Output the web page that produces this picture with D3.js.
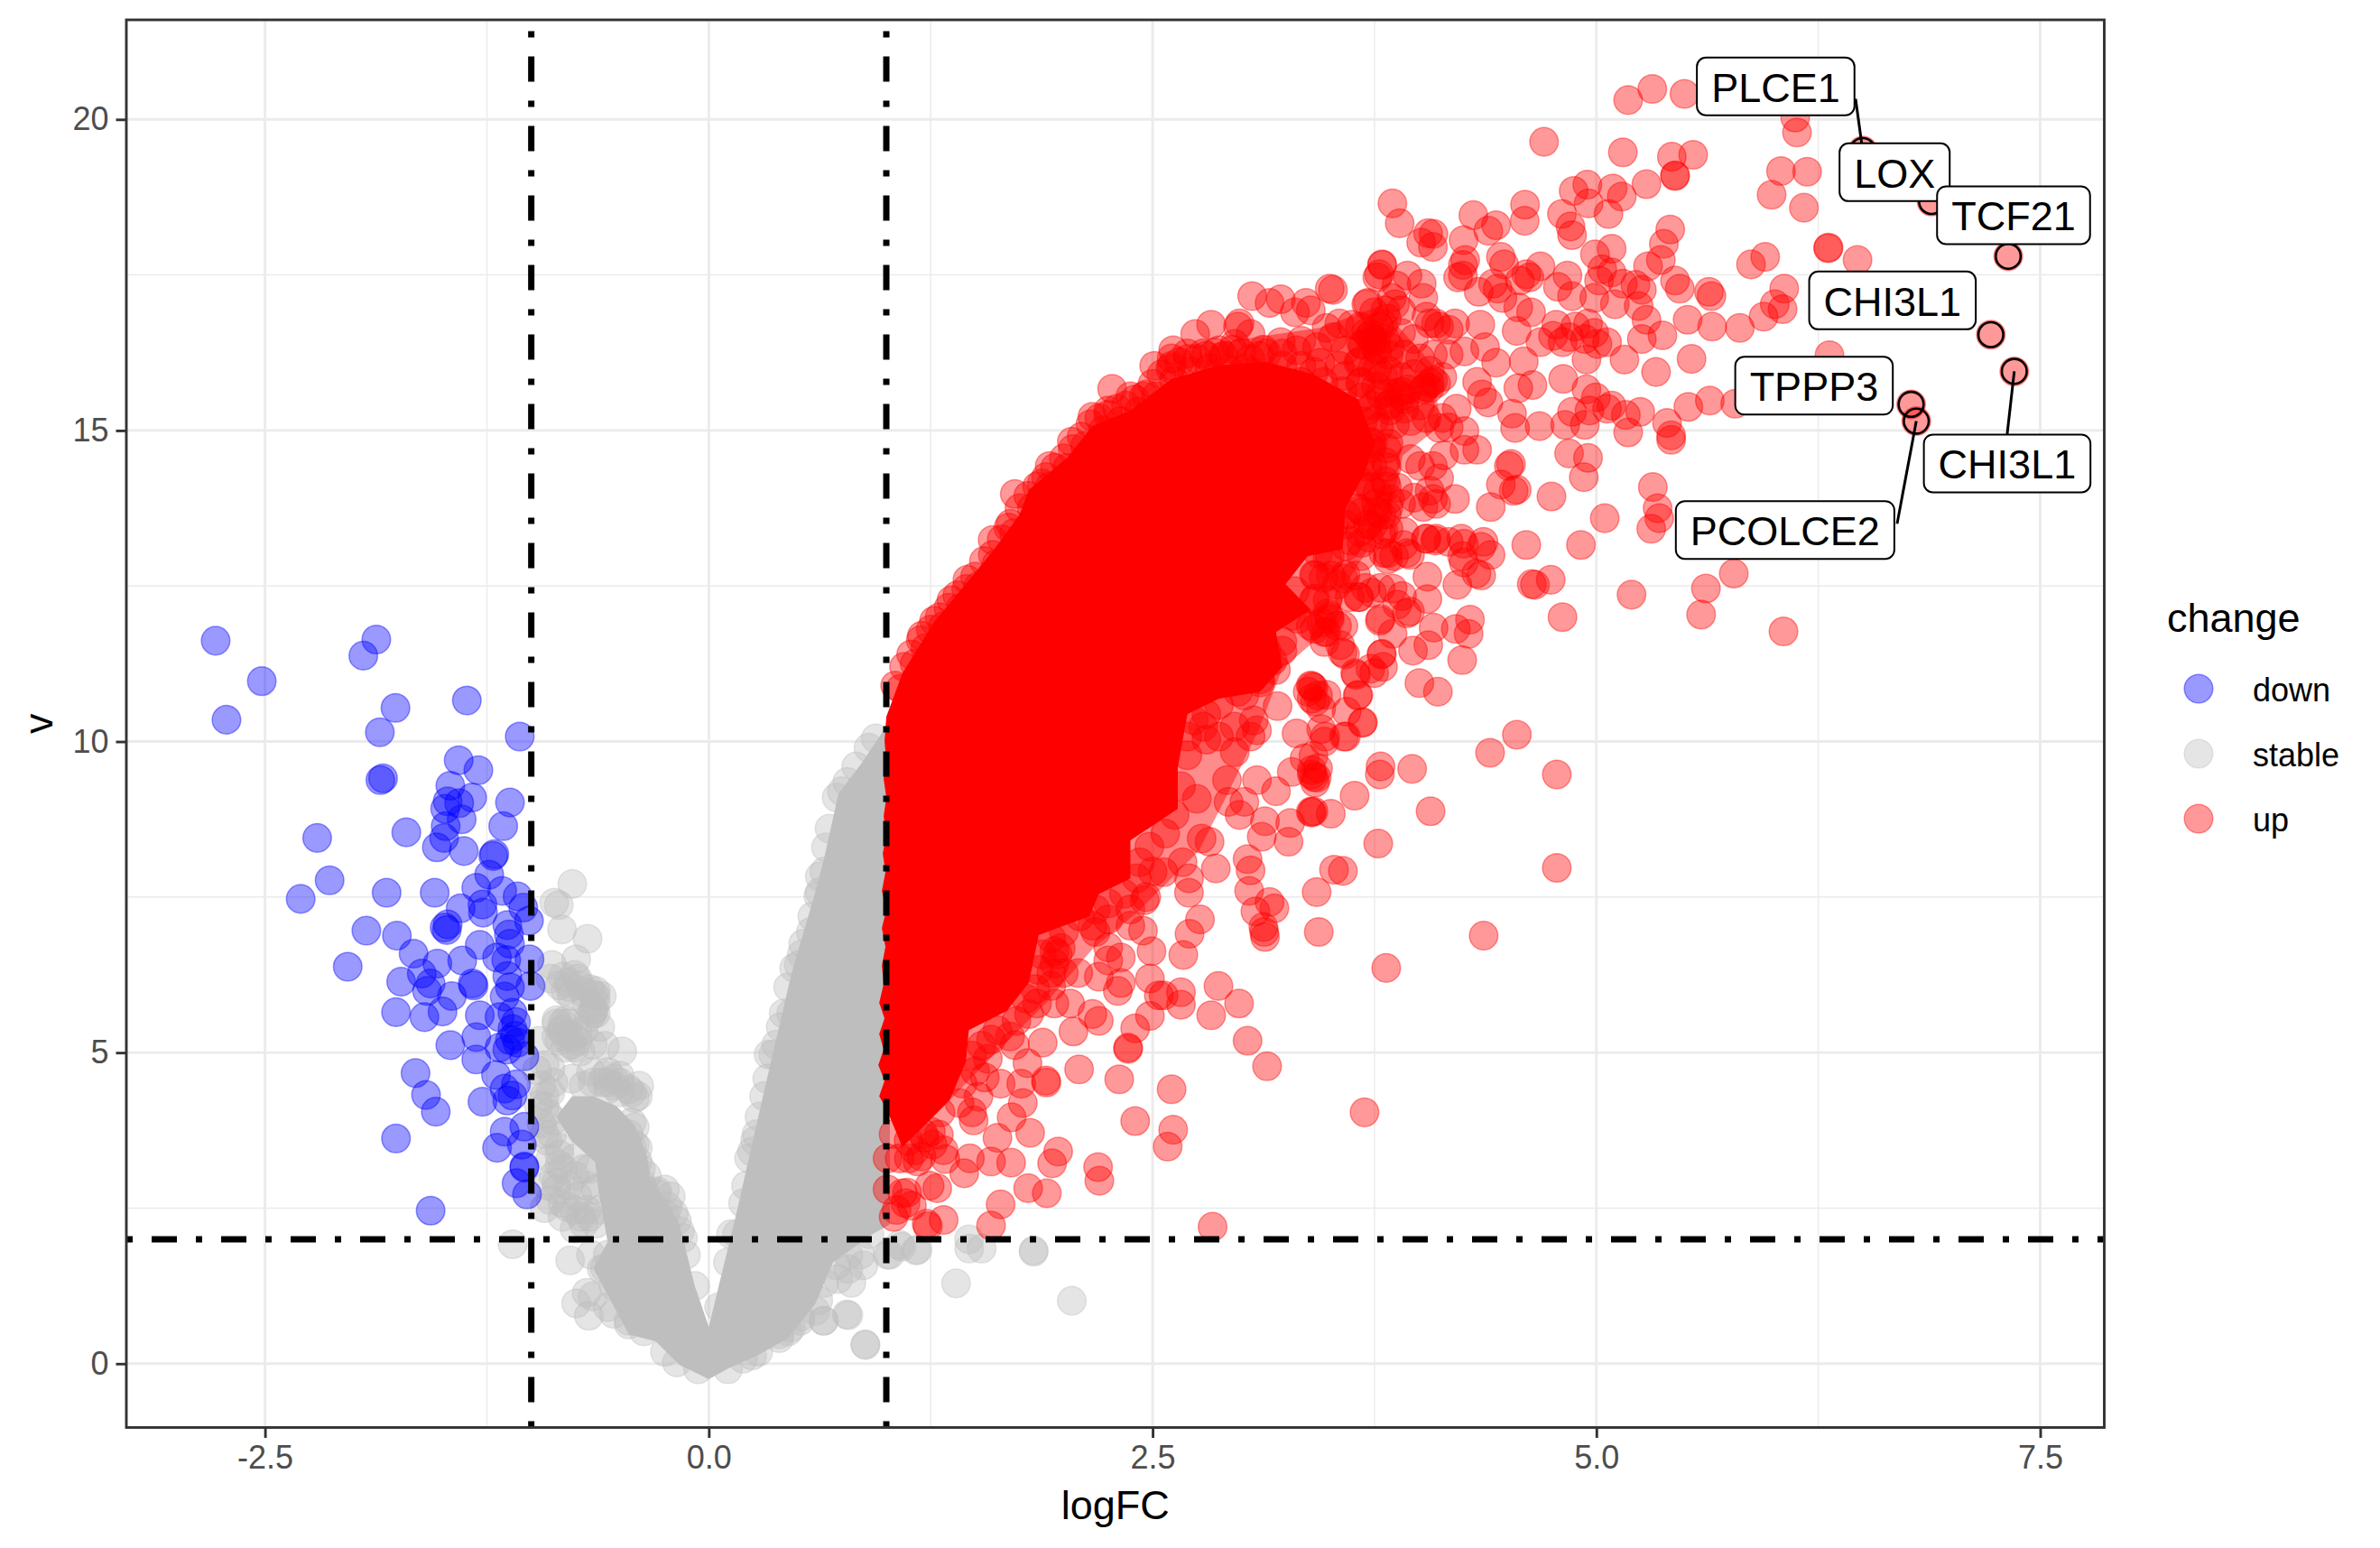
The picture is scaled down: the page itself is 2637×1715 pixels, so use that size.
<!DOCTYPE html>
<html>
<head>
    <meta charset="utf-8">
    <title>Volcano plot</title>
    <style type="text/css">
        html, body { margin: 0; padding: 0; background: #fff; }
        text { font-family: "Liberation Sans", Arial, sans-serif; }
    </style>
</head>
<body>
<div id="chart"></div>
<script src="https://cdnjs.cloudflare.com/ajax/libs/d3/7.8.5/d3.min.js"></script>
<script>

var xTicks = [-2.5, 0, 2.5, 5, 7.5];
var xMinor = [-1.25, 1.25, 3.75, 6.25];
var yTicks = [0, 5, 10, 15, 20];
var yMinor = [2.5, 7.5, 12.5, 17.5];
var vCuts = [-1, 1];
var hCuts = [2];
var changeLevels = ["down", "stable", "up"];
var changeColors = ["#0000ff", "#bebebe", "#ff0000"];

var downPoints = [[-2.778,11.62],[-2.518,10.97],[-2.717,10.35],[-1.873,11.64],[-1.946,11.38],[-1.765,10.54],[-1.853,10.15],[-1.363,10.66],[-1.065,10.08],
[-1.835,9.41],[-1.85,9.38],[-1.409,9.7],[-1.298,9.54],[-1.456,9.29],[-1.333,9.1],[-1.471,9.04],[-1.406,9.01],[-1.485,8.92],[-1.392,8.75],[-1.482,8.64],
[-1.491,8.45],[-1.532,8.3],[-1.38,8.24],[-1.12,9.02],[-1.158,8.64],[-1.704,8.54],[-2.206,8.45],[-2.136,7.77],[-2.299,7.47],[-1.815,7.57],[-1.544,7.57],
[-1.214,8.16],[-1.208,8.19],[-1.237,7.86],[-1.31,7.65],[-1.164,7.6],[-1.077,7.51],[-1.045,7.33],[-1.013,7.12],[-1.398,7.32],[-1.275,7.38],[-1.272,7.25],
[-1.471,7.06],[-1.488,7.01],[-1.476,6.97],[-1.929,6.96],[-1.757,6.88],[-1.135,7.05],[-1.126,6.9],[-1.12,6.75],[-1.29,6.73],[-2.034,6.38],[-1.663,6.59],
[-1.193,6.53],[-1.141,6.49],[-1.01,6.5],[-1.389,6.48],[-1.529,6.43],[-1.617,6.27],[-1.733,6.14],[-1.567,6.11],[-1.587,5.99],[-1.447,5.91],[-1.331,6.11],
[-1.325,6.08],[-1.135,6.23],[-1.004,6.07],[-1.15,5.9],[-1.12,6.05],[-1.762,5.65],[-1.602,5.57],[-1.5,5.66],[-1.29,5.6],[-1.179,5.57],[-1.106,5.64],
[-1.086,5.49],[-1.31,5.25],[-1.456,5.12],[-1.179,5.08],[-1.12,5.2],[-1.091,5.27],[-1.077,5.16],[-1.135,5.05],[-1.106,5.38],[-1.039,4.94],[-1.31,4.89],
[-1.199,4.64],[-1.652,4.67],[-1.593,4.32],[-1.538,4.05],[-1.086,4.49],[-1.15,4.42],[-1.106,4.31],[-1.135,4.23],[-1.275,4.21],[-1.762,3.62],[-1.15,3.73],
[-1.039,3.81],[-1.193,3.47],[-1.053,3.52],[-1.039,3.17],[-1.039,3.15],[-1.083,2.9],[-1.024,2.72],[-1.567,2.46]];

var stablePoints = [[-0.769,7.71],[-0.871,7.41],[-0.845,7.37],[-0.827,6.98],[-0.683,6.83],[-0.883,6.41],[-0.747,6.5],[-0.824,6.22],[-0.739,6.19],[-0.807,5.99],
[-0.781,6.05],[-0.637,5.99],[-0.654,5.94],[-0.646,5.69],[-0.654,5.63],[-0.824,5.47],[-0.832,5.36],[-0.764,5.25],[-0.807,5.25],[-0.756,5.08],[-0.612,5.41],
[-0.586,5.11],[-0.488,5.02],[-0.959,5.19],[-0.968,4.72],[-0.892,4.75],[-0.663,4.69],[-0.569,4.52],[-0.536,4.58],[-0.392,4.47],[-0.417,4.27],[-0.892,4.36],
[-0.705,4.47],[-0.959,4.16],[-0.434,3.88],[-0.925,3.69],[-0.434,3.47],[-0.841,3.47],[-0.841,3.19],[-0.908,2.86],[-0.858,2.8],[-0.798,2.52],[-0.722,2.36],
[-0.925,2.5],[-0.756,2.17],[-0.29,2.77],[-0.247,2.4],[-1.105,1.92],[-0.781,1.66],[-0.663,1.75],[-0.747,0.97],[-0.688,1.14],[-0.676,0.77],[-0.536,0.8],
[-0.451,0.63],[-0.586,1.53],[0.854,1.75],[0.786,1.52],[0.727,1.36],[0.803,1.3],[0.871,1.58],[1.007,1.75],[1.176,1.83],[1.075,1.91],[0.617,1.02],[0.647,0.69],
[0.786,0.78],[0.883,0.3],[0.515,0.75],[0.397,0.47],[0.244,0.13],[0.447,0.52],[1.83,1.82],[1.83,1.8],[1.466,2.0],[1.537,1.85],[1.467,1.85],[1.393,1.29],
[2.045,1.01],[0.881,0.31],[0.777,0.79],[0.648,0.69],[1.086,1.88],[1.167,1.82],[1.02,1.75],[0.447,6.05],[0.363,4.97],[0.337,4.97],[0.625,7.83],[0.617,7.52],
[0.464,5.63],[0.575,6.94],[0.159,2.08],[0.269,3.69],[0.244,3.41],[0.524,6.58],[0.507,6.41],
[-0.892,6.19],[-0.841,6.08],[-0.773,5.91],[-0.688,5.8],[-0.637,5.63],[-0.858,5.52],[-0.79,5.47],[-0.705,5.36],[-0.858,5.25],[-0.739,5.19],[-0.807,5.08],
[-0.722,5.02],[-0.654,5.13],[-0.925,4.8],[-0.875,4.52],[-0.773,4.58],[-0.654,4.52],[-0.569,4.69],[-0.502,4.52],[-0.502,4.36],[-0.434,4.36],[-0.925,4.3],
[-0.908,4.02],[-0.942,3.86],[-0.883,3.69],[-0.841,3.36],[-0.756,3.3],[-0.705,3.13],[-0.756,3.02],[-0.688,2.86],[-0.875,3.02],[-0.892,2.63],[-0.824,2.58],
[-0.756,2.47],[-0.688,2.47],[-0.637,2.25],[-0.502,3.75],[-0.417,3.52],[-0.4,3.25],[-0.417,3.13],[-0.383,2.91],[-0.62,2.47],[-0.569,1.75],[-0.603,1.52],
[-0.536,1.25],[-0.569,0.91],[-0.451,0.69],[-0.366,0.52],[-0.247,0.19],[-0.18,0.02],[-0.654,1.08],[-0.79,6.13],[-0.722,6.08],[-0.637,5.91],[-0.756,6.25],
[-0.197,2.41],[-0.214,2.69],[-0.247,2.8],[-0.349,3.02],[-0.163,2.13],[-0.129,1.75],[-0.078,1.25],
[0.125,2.08],[0.108,1.63],[0.058,0.91],[0.193,2.58],[0.21,2.86],[0.227,3.3],[0.261,3.58],[0.286,3.97],[0.312,4.3],[0.329,4.58],[0.38,5.13],[0.405,5.41],
[0.422,5.63],[0.481,6.36],[0.532,6.75],[0.583,7.19],[0.625,7.58],[0.651,7.91],[0.72,9.1],[0.78,9.35],[0.83,9.6],[0.9,9.9],[0.94,10.05],[0.68,8.6],[0.66,8.3],[0.75,9.2],
[0.6,0.85],[0.651,1.3],[0.719,1.58],[0.786,1.75],[0.905,2.08],[0.515,0.69],[0.397,0.41],[0.278,0.19],[0.464,0.58],[0.193,0.08],[0.108,-0.09],[-0.061,-0.09],
[-0.858,5.47],[-0.824,5.36],[-0.79,5.3],[-0.841,5.19],[-0.773,5.13],[-0.739,5.3],[-0.807,5.52],[-0.705,5.97],[-0.671,6.02],[-0.637,5.8],[-0.654,5.69],[-0.671,5.58],
[-0.603,5.91],[-0.603,4.52],[-0.569,4.41],[-0.536,4.47],[-0.586,4.63],[-0.451,4.41],[-0.4,4.3],[-0.502,4.63],[-0.942,4.47],[-0.925,4.13],[-0.875,3.91],[-0.908,3.58],
[-0.892,3.3],[-0.824,3.13],[-0.858,2.91],[-0.79,2.86],[-0.739,2.69],[-0.824,2.36],[-0.705,2.25],[-0.671,2.36],[-0.417,3.8],[-0.451,3.69],[-0.4,3.47],[-0.383,3.13],
[-0.366,2.8],[-0.298,2.74],[-0.231,2.52],[-0.18,2.3],[-0.146,2.02],[-0.603,3.58],[-0.62,3.8],[-0.671,3.13],[-0.637,2.8]];

var upPoints = [[5.179,20.31],[5.315,20.49],[5.496,20.41],[6.12,20.03],[6.13,19.79],[4.705,19.64],[5.149,19.47],[5.425,19.4],[5.545,19.43],[5.443,19.09],[5.443,19.1],
[6.04,19.17],[6.187,19.16],[5.987,18.79],[6.169,18.58],[3.851,18.65],[3.892,18.33],[4.307,18.46],[4.598,18.63],[4.596,18.37],[4.435,18.3],[4.391,18.21],
[4.872,18.85],[4.949,18.95],[5.092,18.89],[5.143,18.76],[5.282,18.96],[4.956,18.65],[5.068,18.48],[4.806,18.48],[4.854,18.28],[4.863,18.14],[4.082,18.16],
[4.052,18.17],[4.013,18.02],[4.079,17.95],[4.252,18.06],[4.261,17.74],[4.248,17.66],[4.221,17.46],[4.248,17.49],[4.462,17.79],[4.48,17.67],[4.685,17.64],
[4.605,17.51],[4.623,17.46],[4.444,17.28],[4.418,17.36],[4.337,17.23],[4.471,17.13],[4.569,17.41],[5.416,18.23],[5.38,18.0],[5.363,17.74],[5.291,17.64],
[5.086,17.92],[4.992,17.83],[5.033,17.59],[5.086,17.54],[4.837,17.49],[4.783,17.31],[4.863,17.16],[5.015,17.41],[5.149,17.36],[5.22,17.34],[5.256,17.26],
[4.988,17.13],[5.104,17.03],[5.238,17.0],[5.443,17.41],[5.47,17.28],[5.634,17.23],[5.648,17.16],[6.058,17.28],[6.005,17.03],[6.049,16.95],[5.942,16.83],
[5.808,16.65],[5.652,16.67],[5.514,16.78],[5.871,17.67],[5.951,17.79],[6.308,17.94],[5.282,16.78],[5.256,16.47],[5.372,16.53],[5.536,16.15],[5.336,15.94],
[5.158,16.14],[4.944,16.14],[5.06,16.42],[4.988,16.57],[4.953,16.72],[4.881,16.67],[4.774,16.7],[4.756,16.52],[4.81,16.42],[4.846,16.5],[4.935,16.47],
[5.006,16.39],[4.685,16.42],[4.551,16.6],[4.632,16.9],[4.56,16.98],[4.346,16.7],[4.204,16.72],[4.373,16.34],[4.257,16.27],[4.435,16.09],[4.591,16.11],
[4.813,15.83],[4.64,15.73],[4.56,15.68],[4.328,15.78],[4.355,15.58],[4.391,15.45],[4.944,15.66],[4.997,15.53],[4.863,15.3],[4.961,15.32],[5.06,15.35],
[5.086,15.4],[5.166,15.25],[5.247,15.3],[5.179,14.97],[5.398,15.12],[5.421,14.92],[5.421,14.85],[5.518,15.38],[5.639,15.48],[5.782,15.43],[4.525,15.27],
[4.542,15.04],[4.68,15.07],[4.824,15.09],[4.935,15.09],[4.846,14.63],[4.953,14.56],[4.929,14.25],[5.318,14.09],[5.345,13.75],[5.354,13.59],[5.309,13.42],
[5.047,13.59],[4.747,13.94],[4.551,14.05],[4.534,14.03],[4.462,14.13],[4.405,13.77],[4.507,14.43],[4.519,14.46],[4.328,14.69],[4.141,14.6],[4.257,14.69],
[4.204,13.9],[4.079,13.9],[4.605,13.16],[4.913,13.16],[4.132,15.2],[4.213,15.35],[4.114,15.04],[3.704,17.03],[3.793,17.67],[3.793,17.66],[3.776,17.51],
[3.936,17.49],[4.016,17.36],[3.874,17.33],[4.025,17.13],[4.061,16.72],[4.097,16.72],[4.168,16.62],[3.865,17.03],[3.811,16.93],[3.9,16.93],[3.847,17.13],
[3.74,16.47],[3.72,16.5],[3.76,16.45],[3.74,16.42],[3.9,15.55],[3.88,15.6],[3.92,15.5],[3.9,15.62],[4.061,15.76],[4.04,15.7],[4.08,15.8],[4.06,15.68],
[6.305,17.93],[6.471,17.74],[6.888,18.68],[6.5,19.5],[7.32,17.8],[7.222,16.54],[7.354,15.95],[6.773,15.42],[6.802,15.15],[6.313,16.21],
[1.194,11.63],[1.269,11.94],[1.367,12.27],[1.457,12.6],[1.599,13.24],[1.688,13.44],[1.724,13.98],[1.876,14.15],[1.92,14.43],[2.045,14.82],[2.161,15.22],
[2.25,15.32],[2.272,15.67],[2.375,15.55],[2.464,15.58],[2.509,16.04],[2.607,16.16],[2.616,16.29],[2.74,16.55],[2.83,16.7],[2.981,16.67],[2.99,16.72],
[3.061,17.16],[3.159,17.05],[3.222,17.11],[3.364,17.05],[3.391,16.93],[3.498,17.28],[3.516,17.26],[3.302,16.9],[2.963,16.39],[3.222,16.42],[3.124,16.3],
[3.311,16.29],[3.427,16.34],[3.516,16.5],[3.552,16.72],[3.712,17.05],[3.766,17.46],[2.874,16.29],[2.785,16.24],[2.696,16.24],[2.607,16.04],[3.052,15.94],
[3.231,16.04],[3.409,15.94],[3.587,15.88],[3.677,15.78],[3.766,16.29],[3.8,16.7],[3.837,16.34],[3.8,15.88],[3.837,15.43],[3.712,15.32],[3.73,14.71],
[3.819,14.41],[3.766,14.0],[3.819,14.1],[3.8,13.03],[3.677,13.19],[3.677,12.98],[3.8,13.39],[3.587,12.68],[3.463,12.63],[3.659,12.32],[3.784,12.47],
[3.498,11.97],[3.48,11.76],[3.32,11.97],[3.57,11.43],[3.784,11.97],[3.792,11.41],[3.748,11.1],[3.641,11.1],[3.391,10.9],[3.374,10.8],[3.48,10.75],
[3.204,10.57],[3.659,10.75],[3.685,10.31],[3.311,10.13],[3.472,10.08],[3.578,10.08],[3.356,9.73],[3.088,10.18],[3.052,10.08],[2.963,9.83],[2.874,10.08],
[2.785,10.24],[3.784,9.6],[3.177,11.3],[3.106,11.0],[2.981,10.8],[3.231,11.46],
[5.774,12.7],[5.617,12.46],[5.59,12.04],[6.054,11.77],[5.198,12.36],[4.809,12.0],[4.743,12.6],[4.654,12.52],[4.636,12.53],[4.351,12.67],[4.404,13.0],
[4.351,13.13],[4.253,13.18],[4.324,12.7],[4.244,12.98],[4.253,12.88],[4.217,12.52],[4.048,12.65],[4.092,13.23],[4.039,13.26],[3.914,13.16],[3.825,12.93],
[3.932,13.03],[3.852,12.46],[3.736,12.39],[3.664,12.32],[3.905,12.34],[4.048,12.29],[3.95,12.09],[4.083,11.83],[4.208,11.81],[4.288,11.96],[4.28,11.73],
[3.78,11.94],[3.852,11.73],[3.967,11.46],[4.053,11.55],[4.244,11.31],[4.003,10.94],[4.107,10.8],[3.789,11.4],[3.798,11.2],[3.727,11.17],[3.646,11.07],
[3.584,11.4],[3.495,12.01],[3.468,11.76],[3.655,10.74],[3.593,10.48],[3.682,10.3],[3.589,10.08],[3.468,10.0],[3.45,10.2],[3.406,10.87],[3.415,10.64],
[3.424,9.42],[3.397,9.54],[3.78,9.47],[3.962,9.56],[3.638,9.13],[3.504,8.84],[3.397,8.86],[4.066,8.88],[4.401,9.82],[4.552,10.11],[4.777,9.47],[4.777,7.97],
[3.771,8.36],[3.522,7.94],[3.572,7.92],[3.424,7.58],[3.436,6.94],[4.365,6.88],[3.816,6.36],
[3.391,8.87],[3.266,8.39],[3.275,8.69],[3.195,9.2],[3.133,8.72],[3.115,8.47],[2.99,8.82],[3.017,9.03],[2.928,9.03],[2.749,9.08],[2.919,9.38],[3.088,9.38],
[3.409,9.43],[3.284,9.51],[3.035,8.11],[3.052,7.93],[3.044,7.6],[3.159,7.42],[3.186,7.32],[3.079,7.27],[3.124,7.02],[3.129,6.94],[3.133,6.86],[2.856,7.96],
[2.821,8.39],[2.776,8.44],[2.705,7.8],[2.705,7.57],[2.669,8.06],[2.562,7.9],[2.767,7.14],[2.708,6.91],[2.673,6.57],[2.455,7.45],[2.375,7.04],[2.446,6.96],
[2.494,6.63],[2.321,6.53],[2.25,6.69],[2.25,6.48],[2.179,6.94],[2.485,6.19],[2.321,6.12],[2.304,5.99],[2.197,6.22],[2.081,6.28],[2.66,5.97],[2.562,5.92],
[2.535,5.92],[2.66,5.77],[2.871,6.07],[2.987,5.79],[2.83,5.6],[3.035,5.19],[3.145,4.78],[2.485,5.59],[2.402,5.39],[2.362,5.08],[2.362,5.06],[2.086,4.73],
[2.312,4.57],[2.607,4.41],[3.694,4.04],[2.402,3.9],[2.616,3.76],[2.585,3.49],[2.193,3.16],[2.2,2.94],[1.968,3.41],[1.934,3.22],[1.904,2.74],[1.799,2.82],
[1.644,2.56],[1.59,2.22],[2.838,2.2],[1.703,3.23],[1.59,3.25],[1.439,3.06],[1.471,3.3],[1.287,2.82],[1.323,2.31],[1.234,2.21],[1.144,2.54],[1.091,2.74],
[1.332,3.29],[1.81,3.71],[1.769,4.19],[1.706,3.96],[1.626,3.63],[1.492,3.91],[1.483,4.04],[1.296,3.68],[1.902,4.52],[1.899,4.55],[1.76,4.5],[1.644,4.5],
[1.795,4.83],[1.724,5.12],[1.881,5.16],[2.054,5.34],[2.197,5.51],[2.161,5.62],[2.036,5.79],[1.947,5.79],[1.849,5.79],[1.947,6.43],[1.929,6.28],[1.947,6.63],
[2.339,7.55],[2.161,7.04],[1.983,6.68],
[1.007,3.3],[1.075,3.3],[1.007,2.8],[1.117,2.75],[1.108,2.58],[1.058,2.47],[1.227,2.25],[1.125,3.58],[1.244,2.86],[1.041,3.69],[1.21,3.69],[1.261,3.52],
[1.041,2.36],[1.176,3.25]];

// points crowding the edge of the solid red area
var upRimPoints = [[1.05,10.9],[1.1,11.2],[1.14,11.4],[1.2,11.7],[1.25,11.8],[1.3,12.0],[1.35,12.15],[1.4,12.35],[1.45,12.45],[1.5,12.65],[1.55,12.9],[1.6,13.0],[1.65,13.25],
[1.7,13.5],[1.75,13.75],[1.8,13.95],[1.85,14.1],[1.9,14.25],[1.95,14.4],[2.0,14.55],[2.05,14.7],[2.1,14.9],[2.15,15.1],[2.2,15.2],[2.25,15.25],[2.3,15.35],
[2.35,15.4],[2.4,15.5],[2.45,15.55],[2.5,15.75],[2.55,15.9],[2.6,16.0],[2.65,16.1],[2.7,16.15],[2.75,16.15],[2.8,16.2],[2.85,16.25],[2.9,16.2],[2.95,16.3],
[3.0,16.25],[3.05,16.15],[3.1,16.2],[1.08,10.85],[1.16,11.25],[1.22,11.5],[1.32,11.85],[1.42,12.15],[1.52,12.5],[1.62,12.85],[1.72,13.35],[1.82,13.75],
[1.92,14.1],[2.02,14.4],[2.12,14.75],[2.22,15.0],[2.32,15.15],[2.42,15.3],[2.52,15.55],[2.62,15.8],[2.72,15.95],[2.82,16.0],[2.92,16.0],[3.02,16.0],
[3.052,16.55],[3.142,16.24],[3.231,16.24],[3.338,16.44],[3.48,16.65],[3.623,16.7],[3.748,16.9],[3.819,16.8],[3.73,16.55],[3.587,16.29],[3.677,16.39],
[3.766,15.99],[3.659,16.09],[3.552,16.04],[3.445,16.09],[3.338,16.04],[3.142,15.83],[3.231,15.78],[3.338,15.78],[3.463,15.78],[3.57,15.63],[3.677,15.53],
[3.784,15.58],[3.837,15.32],[3.748,15.17],[3.587,15.32],[3.463,15.43],[3.73,14.82],[3.819,14.71],[3.712,14.41],[3.73,14.1],[3.837,13.9],[3.659,13.75],
[3.766,13.7],[3.587,13.49],[3.712,13.49],[3.819,13.65],[3.587,13.14],[3.498,12.98],[3.409,12.68],[3.302,12.42],[3.409,12.27],[3.284,12.02],[3.391,11.86],
[3.231,11.61],[3.142,11.46],[3.195,11.15],[3.106,10.95],[3.017,10.74],[2.874,10.59],[2.803,10.44],[2.732,10.34],[2.696,10.08],[2.803,10.03],[2.696,9.78],
[2.963,10.24],[3.07,10.34],
[3.669,16.67],[3.704,16.57],[3.776,16.67],[3.811,16.47],[3.686,16.37],[3.758,16.32],[3.829,16.22],[3.9,16.57],[3.972,16.47],[4.043,16.83],[4.114,16.67],
[3.918,16.22],[4.007,16.16],[4.079,16.22],[4.168,16.22],[3.669,16.11],[3.74,16.01],[3.829,15.96],[3.9,15.86],[3.972,15.91],[4.061,15.96],[4.132,15.86],
[3.669,15.76],[3.758,15.71],[3.829,15.6],[3.936,15.66],[4.025,15.66],[4.097,15.76],[3.74,15.4],[3.829,15.4],[3.918,15.35],[4.007,15.4],[3.686,15.15],
[3.776,15.05],[3.865,15.1],[3.954,15.15],[4.043,15.2],[4.168,15.05],[4.257,14.99],[3.669,14.79],[3.74,14.79],[3.829,14.79],[3.954,14.54],[4.007,14.43],
[3.811,14.49],[3.74,14.43],[3.669,14.49],[4.079,14.43],[4.114,14.23],[3.811,14.18],[3.722,14.08],[3.669,14.18],[3.883,14.08],[3.972,13.92],[4.061,14.03],
[4.097,13.82],[3.758,13.82],[3.669,13.72],[3.829,13.77],[3.9,13.82],[4.025,13.77],[3.74,13.47],[3.829,13.42],[3.918,13.37],[3.669,13.37],[4.043,13.26],
[4.097,13.26],[4.239,13.26],[4.168,13.21],[4.364,13.21],
[3.468,13.28],[3.432,13.49],[3.522,13.49],[3.593,13.64],[3.682,13.69],[3.789,13.64],[3.611,13.23],[3.718,13.28],[3.789,13.33],[3.86,12.98],[3.95,13.0],
[3.825,13.03],[3.486,12.93],[3.432,13.03],[3.415,12.67],[3.504,12.67],[3.575,12.62],[3.646,12.67],[3.539,12.52],[3.415,12.3],[3.486,12.06],[3.45,11.91],
[3.539,11.86],[3.415,11.81],[3.468,11.6],[3.575,11.86],[3.486,12.27],[3.611,12.32],[3.7,12.47],[3.878,12.2],[3.932,12.06],[3.557,11.55],[3.397,10.89],
[3.432,10.74],[3.397,10.69],[3.45,10.53],[3.406,9.77],[3.432,9.57],[3.397,9.47],[3.415,9.34],[3.406,8.88],
[2.66,9.28],[2.624,8.82],[2.571,8.52],[2.482,8.31],[2.428,8.06],[2.5,7.91],[2.411,7.8],[2.464,7.5],[2.375,7.3],[2.25,7.4],[2.179,7.3],[2.25,7.14],[2.09,7.19],
[2.0,6.94],[1.929,6.84],[1.965,6.58],[1.876,6.58],[1.858,6.33],[2.0,6.28],[1.929,6.07],[1.84,6.02],[1.786,5.87],[1.804,5.62],[1.733,5.51],[1.626,5.36],
[1.697,5.26],[1.59,5.21],[1.537,5.11],[1.483,4.95],[1.572,4.9],[1.501,4.7],[1.555,4.6],[1.43,4.5],[1.519,4.29],[1.412,4.19],[1.305,4.04],[1.251,3.73],
[1.216,3.63],[1.162,3.43],[1.323,3.43],[1.127,3.3],[1.198,3.33]];

// thousands of genes overlap into flat colour here, so the saturated middle of each
// cloud is kept as the outline of that solid area
var stableSolid = [[0,0.59],[0.16,2.47],[0.31,4.36],[0.464,6.25],[0.6,7.58],[0.65,8.13],[0.73,9.16],[0.86,9.65],[0.99,10.2],[1.02,10.1],[1.02,2.24],[0.92,2.08],
[0.7,1.63],[0.6,0.96],[0.447,0.41],[0.278,0.14],[0.108,-0.08],[0,-0.25],[-0.165,-0.02],[-0.3,0.36],[-0.45,0.47],[-0.535,0.92],[-0.65,1.53],[-0.57,1.96],
[-0.62,2.75],[-0.64,3.24],[-0.77,3.57],[-0.86,3.97],[-0.77,4.3],[-0.65,4.3],[-0.52,4.14],[-0.42,3.85],[-0.35,3.36],[-0.33,2.97],[-0.23,2.58],[-0.165,2.24],[-0.08,1.26]];

var upSolid = [[1.0,4.1],[0.96,4.3],[0.99,4.55],[0.955,4.8],[0.985,5.05],[0.96,5.3],[0.99,5.55],[0.96,5.8],[0.985,6.1],[0.975,6.4],[0.995,6.7],[0.975,7.0],[1.0,7.3],
[0.975,7.6],[0.995,7.9],[0.98,8.2],[1.0,8.5],[0.985,8.8],[1.0,9.1],[0.985,9.4],[1.0,9.7],[0.99,10.0],[1.0,10.4],[1.091,11.1],[1.269,11.92],[1.43,12.47],
[1.608,13.09],[1.751,13.65],[1.804,14.05],[2.018,14.56],[2.161,15.07],[2.375,15.32],[2.607,15.83],[2.874,16.05],[3.142,16.1],[3.409,15.9],[3.659,15.5],
[3.75,14.8],[3.694,14.31],[3.587,13.75],[3.57,13.09],[3.373,12.98],[3.249,12.53],[3.391,12.12],[3.195,11.76],[3.231,11.2],[3.106,10.8],[2.874,10.69],[2.696,10.44],
[2.642,9.585],[2.642,8.92],[2.375,8.41],[2.375,7.8],[2.197,7.55],[2.143,7.19],[1.858,6.89],[1.804,6.13],[1.679,5.67],[1.465,5.36],[1.448,4.85],[1.358,4.24],
[1.144,3.63],[1.091,3.48]];

// the crowded but not yet saturated band around the solid red
var upCrowded = [[2.84,16.4],[3.44,16.65],[3.78,17.0],[4.08,16.05],[4.12,15.07],[3.91,14.6],[3.83,13.6],[3.61,12.63],[3.53,11.9],[3.23,11.17],[3.1,10.2],[2.93,9.2],
[2.76,8.24],[2.42,7.27],[2.16,6.66],[1.9,5.8],[1.56,4.83],[1.31,4.1],[1.144,3.63],[2.0,10.0]];

// gene, point it marks, where ggrepel put the box
var geneNames = ["PLCE1", "LOX", "TCF21", "CHI3L1", "TPPP3", "CHI3L1", "PCOLCE2"];
var genePoints = [[6.5,19.5],[6.888,18.68],[7.32,17.8],[7.222,16.54],[6.773,15.42],[7.354,15.95],[6.802,15.15]];
var geneBoxes = [[6.01,20.53],[6.68,19.15],[7.35,18.46],[6.668,17.09],[6.226,15.72],[7.314,14.47],[6.063,13.4]];
var geneLeaders = [[6.46,20.33],null,null,null,null,[7.314,14.94],[6.694,13.5]];

var width = 2637, height = 1715;
var panel = {left: 140, right: 2331.5, top: 22, bottom: 1581.5};
var pointR = 15.8;

var x = d3.scaleLinear().domain([-3.281, 7.861]).range([panel.left, panel.right]);
var y = d3.scaleLinear().domain([-1.026, 21.6]).range([panel.bottom, panel.top]);

var svg = d3.select("#chart").append("svg")
    .attr("width", width)
    .attr("height", height)
    .style("display", "block");

svg.append("defs").append("clipPath").attr("id", "panel-clip")
    .append("rect")
    .attr("x", panel.left).attr("y", panel.top)
    .attr("width", panel.right - panel.left).attr("height", panel.bottom - panel.top);

// grid
var grid = svg.append("g").attr("stroke", "#ebebeb").attr("fill", "none");
function gridLines(xs, ys, w) {
    grid.selectAll(null).data(xs).enter().append("line")
        .attr("x1", function(d) { return x(d); }).attr("x2", function(d) { return x(d); })
        .attr("y1", panel.top).attr("y2", panel.bottom)
        .attr("stroke-width", w);
    grid.selectAll(null).data(ys).enter().append("line")
        .attr("x1", panel.left).attr("x2", panel.right)
        .attr("y1", function(d) { return y(d); }).attr("y2", function(d) { return y(d); })
        .attr("stroke-width", w);
}
gridLines(xMinor, yMinor, 1.5);
gridLines(xTicks, yTicks, 2.9);

var plot = svg.append("g").attr("clip-path", "url(#panel-clip)");
var line = d3.line().x(function(d) { return x(d[0]); }).y(function(d) { return y(d[1]); });

function drawPoints(points, color) {
    plot.append("g").selectAll("circle")
        .data(points)
        .enter()
        .append("circle")
        .attr("cx", function(d) { return x(d[0]); })
        .attr("cy", function(d) { return y(d[1]); })
        .attr("r", pointR)
        .attr("fill", color)
        .attr("fill-opacity", 0.4)
        .attr("stroke", color)
        .attr("stroke-opacity", 0.4)
        .attr("stroke-width", 1.5);
}

drawPoints(stablePoints, changeColors[1]);
plot.append("path").attr("d", line(stableSolid) + "Z").attr("fill", changeColors[1]);
drawPoints(downPoints, changeColors[0]);
plot.append("path").attr("d", line(upCrowded) + "Z").attr("fill", changeColors[2]).attr("fill-opacity", 0.45);
drawPoints(upPoints, changeColors[2]);
drawPoints(upRimPoints, changeColors[2]);
plot.append("path").attr("d", line(upSolid) + "Z").attr("fill", changeColors[2]);

// cut-off lines, R's dotdash starts with the dot
plot.selectAll(null).data(vCuts).enter().append("line")
    .attr("x1", function(d) { return x(d); }).attr("x2", function(d) { return x(d); })
    .attr("y1", panel.bottom).attr("y2", panel.top)
    .attr("stroke", "#000").attr("stroke-width", 7).attr("stroke-dasharray", "7,21,28,21");
plot.selectAll(null).data(hCuts).enter().append("line")
    .attr("x1", panel.left).attr("x2", panel.right)
    .attr("y1", function(d) { return y(d); }).attr("y2", function(d) { return y(d); })
    .attr("stroke", "#000").attr("stroke-width", 7).attr("stroke-dasharray", "7,21,28,21");

// highlighted genes
plot.append("g").selectAll("circle").data(genePoints).enter().append("circle")
    .attr("cx", function(d) { return x(d[0]); })
    .attr("cy", function(d) { return y(d[1]); })
    .attr("r", 13.8)
    .attr("fill", "none")
    .attr("stroke", "#000")
    .attr("stroke-width", 2.6);

geneNames.forEach(function(name, i) {
    if (!geneLeaders[i]) return;
    plot.append("line")
        .attr("x1", x(geneLeaders[i][0])).attr("y1", y(geneLeaders[i][1]))
        .attr("x2", x(genePoints[i][0])).attr("y2", y(genePoints[i][1]))
        .attr("stroke", "#000").attr("stroke-width", 3);
});

geneNames.forEach(function(name, i) {
    var g = plot.append("g");
    var rect = g.append("rect");
    var label = g.append("text")
        .attr("x", x(geneBoxes[i][0]))
        .attr("y", y(geneBoxes[i][1]) + 17)
        .attr("text-anchor", "middle")
        .attr("font-size", 45)
        .attr("fill", "#000")
        .text(name);
    var w = label.node().getComputedTextLength() + 32;
    rect.attr("x", x(geneBoxes[i][0]) - w / 2)
        .attr("y", y(geneBoxes[i][1]) - 32)
        .attr("width", w)
        .attr("height", 64)
        .attr("rx", 10)
        .attr("fill", "#fff")
        .attr("stroke", "#000")
        .attr("stroke-width", 2);
});

svg.append("rect")
    .attr("x", panel.left).attr("y", panel.top)
    .attr("width", panel.right - panel.left).attr("height", panel.bottom - panel.top)
    .attr("fill", "none").attr("stroke", "#333333").attr("stroke-width", 2.9);

// axes
var xAxis = svg.append("g")
    .attr("transform", "translate(0," + panel.bottom + ")")
    .call(d3.axisBottom(x).tickValues(xTicks).tickFormat(function(d) { return d.toFixed(1); }).tickSize(11.5).tickPadding(8));
var yAxis = svg.append("g")
    .attr("transform", "translate(" + panel.left + ",0)")
    .call(d3.axisLeft(y).tickValues(yTicks).tickFormat(d3.format("d")).tickSize(11.5).tickPadding(8));
[xAxis, yAxis].forEach(function(a) {
    a.select(".domain").remove();
    a.selectAll("line").attr("stroke", "#333333").attr("stroke-width", 2.9);
    a.selectAll("text").attr("fill", "#4d4d4d").attr("font-size", 36)
        .style("font-family", '"Liberation Sans", Arial, sans-serif');
});

svg.append("text")
    .attr("x", (panel.left + panel.right) / 2).attr("y", 1683)
    .attr("text-anchor", "middle").attr("font-size", 45).text("logFC");
svg.append("text")
    .attr("transform", "translate(58," + (panel.top + panel.bottom) / 2 + ") rotate(-90)")
    .attr("text-anchor", "middle").attr("font-size", 45).text("v");

// legend
svg.append("text").attr("x", 2401).attr("y", 700).attr("font-size", 45).text("change");
var keys = svg.append("g").selectAll("g").data(changeLevels).enter().append("g")
    .attr("transform", function(d, i) { return "translate(2436," + (763 + i * 72) + ")"; });
keys.append("circle")
    .attr("r", pointR)
    .attr("fill", function(d, i) { return changeColors[i]; })
    .attr("fill-opacity", 0.4)
    .attr("stroke", function(d, i) { return changeColors[i]; })
    .attr("stroke-opacity", 0.4)
    .attr("stroke-width", 1.5);
keys.append("text")
    .attr("x", 60).attr("y", 14)
    .attr("font-size", 36)
    .text(function(d) { return d; });

</script>
</body>
</html>
